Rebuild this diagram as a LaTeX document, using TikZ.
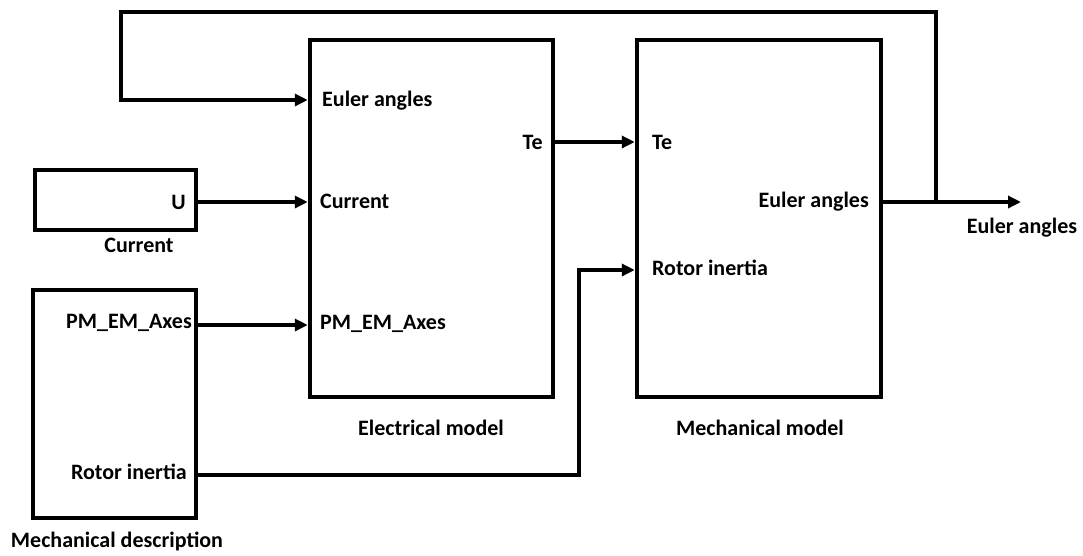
\documentclass[tikz,border=0pt]{standalone}
\usepackage{fontspec}
\setmainfont{Carlito}
\usetikzlibrary{arrows.meta}
\begin{document}
\begin{tikzpicture}[x=1pt,y=-1pt]
    \tikzset{
        block/.style={draw, line width=4.5pt, inner sep=0pt},
        port/.style={font=\fontsize{22}{26}\selectfont\bfseries, inner sep=0pt},
        caption/.style={font=\fontsize{22}{26}\selectfont\bfseries, inner sep=0pt},
        wire/.style={line width=3.5pt, -{Triangle[length=13pt,width=12pt]}}
    }
    \useasboundingbox (0,0) rectangle (1083,555);

    % blocks
    \node[block, minimum width=161pt, minimum height=60pt] (cur) at (115.5,200) {};
    \node[block, minimum width=163pt, minimum height=228pt] (mdesc) at (114.5,404) {};
    \node[block, minimum width=243pt, minimum height=357pt] (elec) at (431.5,218.5) {};
    \node[block, minimum width=244pt, minimum height=357pt] (mech) at (759,218.5) {};

    % captions
    \node[caption] (curcap) at (139,245) {Current};
    \node[caption] (mdesccap) at (117,541) {Mechanical description};
    \node[caption] (eleccap) at (431,428) {Electrical model};
    \node[caption] (mechcap) at (760,428) {Mechanical model};

    % ports
    \coordinate (curU) at (cur.east |- 0,202);
    \coordinate (mdAxes) at (mdesc.east |- 0,325);
    \coordinate (mdRotor) at (mdesc.east |- 0,475);
    \coordinate (eEuler) at (elec.west |- 0,100);
    \coordinate (eCur) at (elec.west |- 0,202);
    \coordinate (eAxes) at (elec.west |- 0,325);
    \coordinate (eTe) at (elec.east |- 0,142);
    \coordinate (mTe) at (mech.west |- 0,142);
    \coordinate (mRotor) at (mech.west |- 0,270);
    \coordinate (mEuler) at (mech.east |- 0,202);
    \coordinate (branch) at (936,202);
    \coordinate (out) at (1021,202);

    \node[port, anchor=east] (lU) at (186,202) {U};
    \node[port, anchor=east] (lmdAxes) at (192,323) {PM\_EM\_Axes};
    \node[port, anchor=east] (lmdRotor) at (187,472) {Rotor inertia};
    \node[port, anchor=west] (leEuler) at (322,101) {Euler angles};
    \node[port, anchor=west] (leCur) at (320,201) {Current};
    \node[port, anchor=west] (leAxes) at (320,324) {PM\_EM\_Axes};
    \node[port, anchor=east] (leTe) at (543,142) {Te};
    \node[port, anchor=west] (lmTe) at (652,142) {Te};
    \node[port, anchor=west] (lmRotor) at (652,268) {Rotor inertia};
    \node[port, anchor=east] (lmEuler) at (869,202) {Euler angles};
    \node[port] (lout) at (1022,228) {Euler angles};

    % connectors
    \draw[wire] (curU) -- (eCur);
    \draw[wire] (mdAxes) -- (eAxes);
    \draw[wire] (eTe) -- (mTe);
    \draw[wire] (mdRotor) -| (579,270) -- (mRotor);
    \draw[wire] (mEuler) -- (out);
    \draw[wire] (branch) |- (121,12) |- (eEuler);
\end{tikzpicture}
\end{document}
